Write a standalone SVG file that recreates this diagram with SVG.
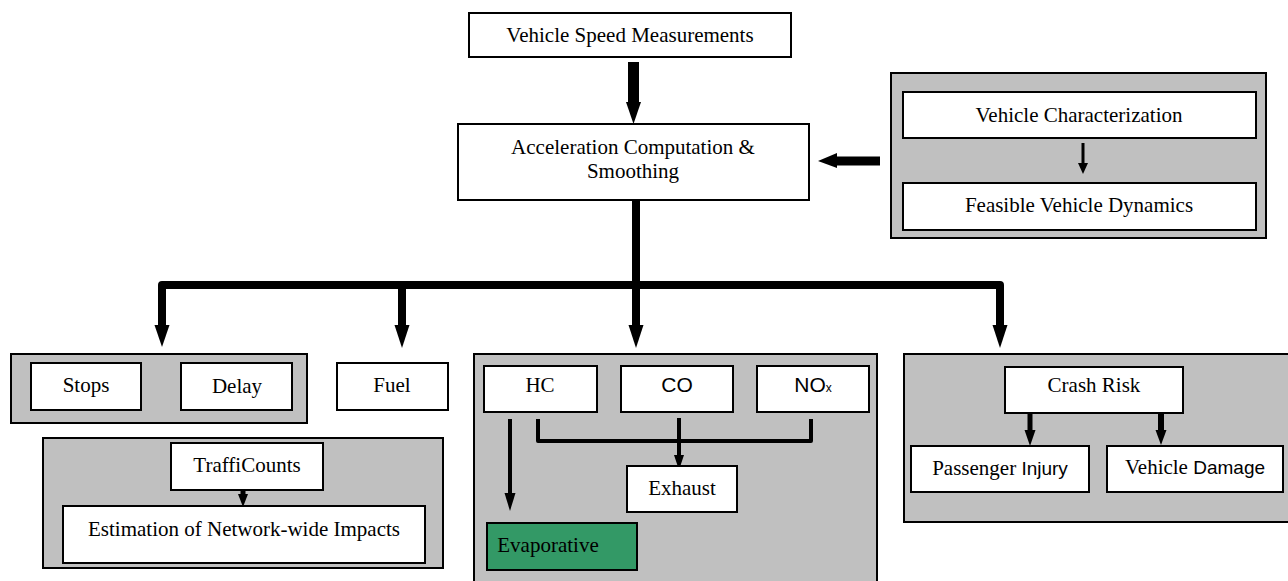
<svg xmlns="http://www.w3.org/2000/svg" width="1288" height="581" viewBox="0 0 1288 581">
<style>
.box{fill:#ffffff;stroke:#000;stroke-width:2}
.grp{fill:#c0c0c0;stroke:#000;stroke-width:2}
.green{fill:#339966;stroke:#000;stroke-width:2}
.t{font-family:"Liberation Serif","Times New Roman",serif;font-size:21px;fill:#000;text-anchor:middle}
.s{font-family:"Liberation Sans",Arial,sans-serif}
.ln{fill:none;stroke:#000;stroke-linejoin:round}
.hd{fill:#000;stroke:none}
</style>
<rect x="0" y="0" width="1288" height="581" fill="#ffffff"/>

<g id="groups">
<rect id="g-vehicle" class="grp" x="891" y="73" width="375" height="165"/>
<rect id="g-stops" class="grp" x="11" y="354" width="296" height="69"/>
<rect id="g-traffic" class="grp" x="43" y="438" width="400" height="130"/>
<rect id="g-emissions" class="grp" x="474" y="354" width="403" height="232"/>
<rect id="g-crash" class="grp" x="904" y="354" width="390" height="168"/>
</g>

<g id="connectors">
<line class="ln" x1="633.5" y1="62" x2="633.5" y2="103" stroke-width="11"/>
<polygon class="hd" points="626,102 641,102 633.5,124"/>
<line class="ln" x1="880" y1="161" x2="836" y2="161" stroke-width="9"/>
<polygon class="hd" points="837,153 837,168 818,161"/>
<line class="ln" x1="1083" y1="143" x2="1083" y2="164" stroke-width="3"/>
<polygon class="hd" points="1078,163 1088,163 1083,174"/>
<path class="ln" d="M636,200 V285 M162,326 V285 H1000 V326 M402,285 V326 M636,285 V326" stroke-width="8"/>
<polygon class="hd" points="154.5,325 169.5,325 162,347"/>
<polygon class="hd" points="394.5,325 409.5,325 402,348"/>
<polygon class="hd" points="628.5,325 643.5,325 636,348"/>
<polygon class="hd" points="992.5,325 1007.5,325 1000,348"/>
<line class="ln" x1="243" y1="490" x2="243" y2="496" stroke-width="5"/>
<polygon class="hd" points="238,494 248,494 243,507"/>
<path class="ln" d="M538,419 V441 H811 V419" stroke-width="4"/>
<line class="ln" x1="679" y1="418" x2="679" y2="457" stroke-width="4"/>
<polygon class="hd" points="674,455 684,455 679,470"/>
<line class="ln" x1="510" y1="419" x2="510" y2="495" stroke-width="4"/>
<polygon class="hd" points="504.5,493 515.5,493 510,511"/>
<line class="ln" x1="1030" y1="413" x2="1030" y2="432" stroke-width="5"/>
<polygon class="hd" points="1024.5,430 1035.5,430 1030,446"/>
<line class="ln" x1="1161" y1="413" x2="1161" y2="432" stroke-width="6"/>
<polygon class="hd" points="1155.5,430 1166.5,430 1161,445"/>
</g>

<g id="n-speed"><rect class="box" x="469" y="13" width="322" height="44"/><text class="t" x="630" y="42">Vehicle Speed Measurements</text></g>
<g id="n-accel"><rect class="box" x="458" y="124" width="351" height="76"/><text class="t" x="633" y="154">Acceleration Computation &amp;</text><text class="t" x="633" y="178">Smoothing</text></g>
<g id="n-vchar"><rect class="box" x="903" y="92" width="353" height="46"/><text class="t" x="1079" y="122">Vehicle Characterization</text></g>
<g id="n-feasible"><rect class="box" x="903" y="183" width="353" height="47"/><text class="t" x="1079" y="212">Feasible Vehicle Dynamics</text></g>
<g id="n-stops"><rect class="box" x="31" y="363" width="110" height="47"/><text class="t" x="86" y="392">Stops</text></g>
<g id="n-delay"><rect class="box" x="181" y="363" width="111" height="47"/><text class="t" x="237" y="393">Delay</text></g>
<g id="n-fuel"><rect class="box" x="337" y="363" width="111" height="47"/><text class="t" x="392" y="392">Fuel</text></g>
<g id="n-trafficounts"><rect class="box" x="171" y="443" width="152" height="47"/><text class="t" x="247" y="472">TraffiCounts</text></g>
<g id="n-estimation"><rect class="box" x="63" y="506" width="362" height="57"/><text class="t" x="244" y="536">Estimation of Network-wide Impacts</text></g>
<g id="n-hc"><rect class="box" x="484" y="366" width="113" height="46"/><text class="t" x="540" y="392">HC</text></g>
<g id="n-co"><rect class="box" x="621" y="366" width="112" height="46"/><text class="t s" x="677" y="392" font-size="17">CO</text></g>
<g id="n-nox"><rect class="box" x="757" y="366" width="112" height="46"/><text class="t s" x="813" y="392" font-size="17">NO<tspan font-size="12">x</tspan></text></g>
<g id="n-exhaust"><rect class="box" x="627" y="466" width="110" height="46"/><text class="t" x="682" y="495">Exhaust</text></g>
<g id="n-evaporative"><rect class="green" x="487" y="523" width="150" height="47"/><text class="t" x="548" y="552">Evaporative</text></g>
<g id="n-crash"><rect class="box" x="1005" y="367" width="178" height="46"/><text class="t" x="1094" y="392">Crash Risk</text></g>
<g id="n-injury"><rect class="box" x="911" y="446" width="178" height="46"/><text class="t" x="1000" y="475">Passenger <tspan class="s" font-size="19">Injury</tspan></text></g>
<g id="n-damage"><rect class="box" x="1107" y="446" width="176" height="46"/><text class="t" x="1195" y="474">Vehicle <tspan class="s" font-size="19">Damage</tspan></text></g>
</svg>
